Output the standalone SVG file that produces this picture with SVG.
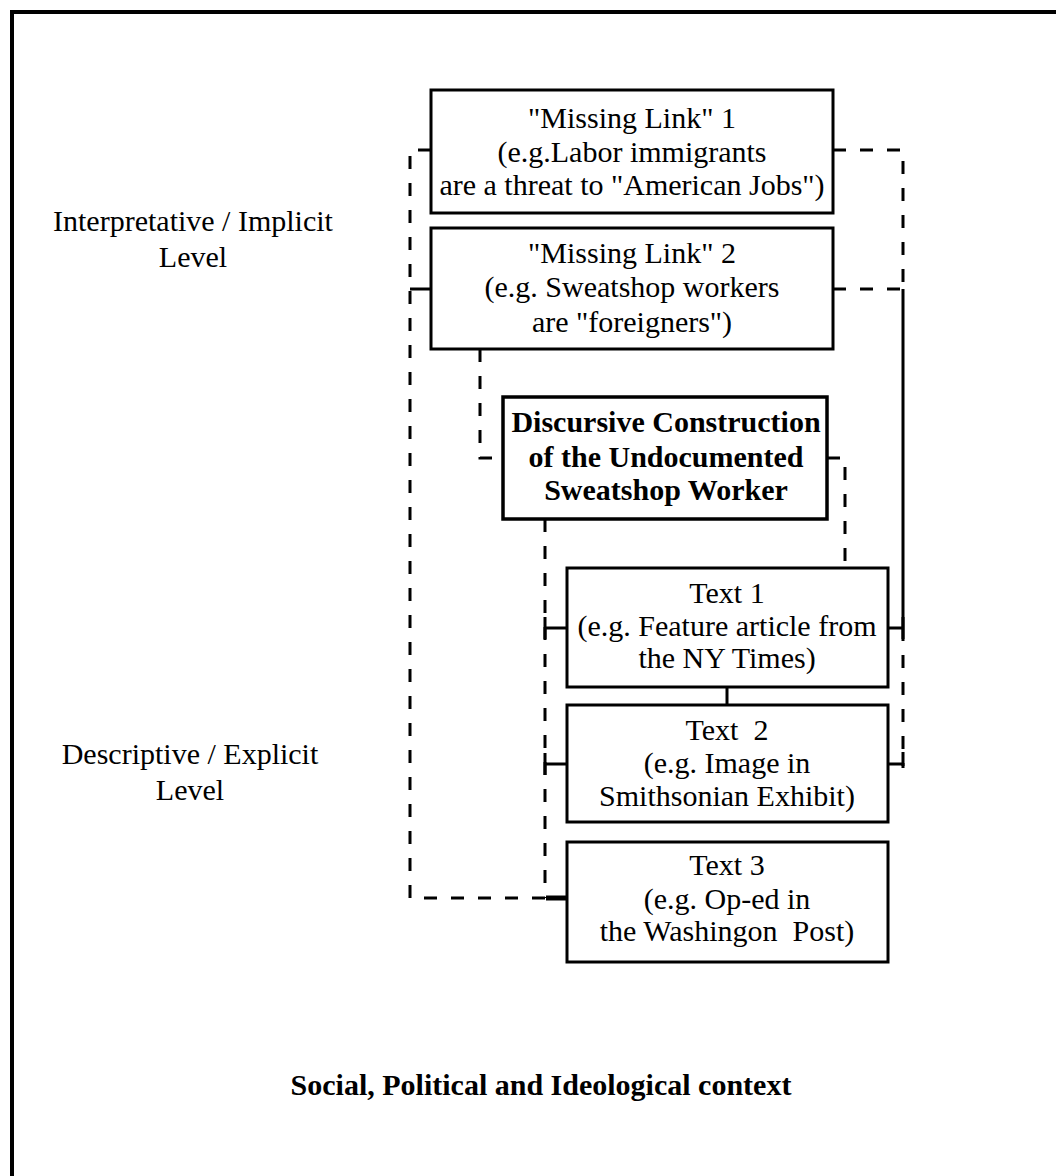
<svg xmlns="http://www.w3.org/2000/svg" width="1056" height="1176" viewBox="0 0 1056 1176">
<style>
.box{fill:#fff;stroke:#000;stroke-width:3}
.t{font-family:"Liberation Serif","Times New Roman",serif;font-size:30px;fill:#000;text-anchor:middle}
.b{font-weight:bold}
.d{fill:none;stroke:#000;stroke-width:3;stroke-dasharray:13 14}
.s{fill:none;stroke:#000;stroke-width:3}
</style>
<rect width="1056" height="1176" fill="#fff"/>
<path d="M12,1176 V12 H1056" fill="none" stroke="#000" stroke-width="4"/>

<g id="labels">
  <text class="t" x="193" y="231">Interpretative / Implicit</text>
  <text class="t" x="193" y="267">Level</text>
  <text class="t" x="190" y="764">Descriptive / Explicit</text>
  <text class="t" x="190" y="800">Level</text>
  <text class="t b" x="541" y="1095">Social, Political and Ideological context</text>
</g>

<g id="connectors">
  <path class="d" d="M431,150 H410 V898 H546"/>
  <path class="s" d="M431,289 H410"/>
  <path d="M546,898 H567" stroke="#000" stroke-width="5" fill="none"/>
  <path class="d" d="M833,150 H903 V289"/>
  <path class="d" d="M833,289 H903"/>
  <path class="s" d="M903,289 V628"/>
  <path class="d" d="M903,628 V766"/>
  <path class="s" d="M888,628 H903 M903,617 V639"/>
  <path class="s" d="M888,764 H903 M903,752 V768"/>
  <path class="d" d="M480,349 V458 H503"/>
  <path class="d" d="M827,458 H845 V568"/>
  <path class="d" d="M545,519 V898"/>
  <path class="s" d="M545,617 V639 M545,628 H567 M545,753 V775 M545,764 H567"/>
  <path class="s" d="M727,687 V705"/>
</g>

<g id="missing-link-1">
  <rect class="box" x="431" y="90" width="402" height="123"/>
  <text class="t" x="632" y="128">"Missing Link" 1</text>
  <text class="t" x="632" y="162">(e.g.Labor immigrants</text>
  <text class="t" x="632" y="195">are a threat to "American Jobs")</text>
</g>

<g id="missing-link-2">
  <rect class="box" x="431" y="228" width="402" height="121"/>
  <text class="t" x="632" y="263">"Missing Link" 2</text>
  <text class="t" x="632" y="297">(e.g. Sweatshop workers</text>
  <text class="t" x="632" y="332">are "foreigners")</text>
</g>

<g id="discursive-construction">
  <rect class="box" x="503" y="397" width="324" height="122" style="stroke-width:3.5"/>
  <text class="t b" x="666" y="432">Discursive Construction</text>
  <text class="t b" x="666" y="467">of the Undocumented</text>
  <text class="t b" x="666" y="500">Sweatshop Worker</text>
</g>

<g id="text-1">
  <rect class="box" x="567" y="568" width="321" height="119"/>
  <text class="t" x="727" y="603">Text 1</text>
  <text class="t" x="727" y="636">(e.g. Feature article from</text>
  <text class="t" x="727" y="668">the NY Times)</text>
</g>

<g id="text-2">
  <rect class="box" x="567" y="705" width="321" height="117"/>
  <text class="t" x="727" y="740" xml:space="preserve">Text  2</text>
  <text class="t" x="727" y="773">(e.g. Image in</text>
  <text class="t" x="727" y="806">Smithsonian Exhibit)</text>
</g>

<g id="text-3">
  <rect class="box" x="567" y="842" width="321" height="120"/>
  <text class="t" x="727" y="875">Text 3</text>
  <text class="t" x="727" y="909">(e.g. Op-ed in</text>
  <text class="t" x="727" y="941" xml:space="preserve">the Washingon  Post)</text>
</g>
</svg>
